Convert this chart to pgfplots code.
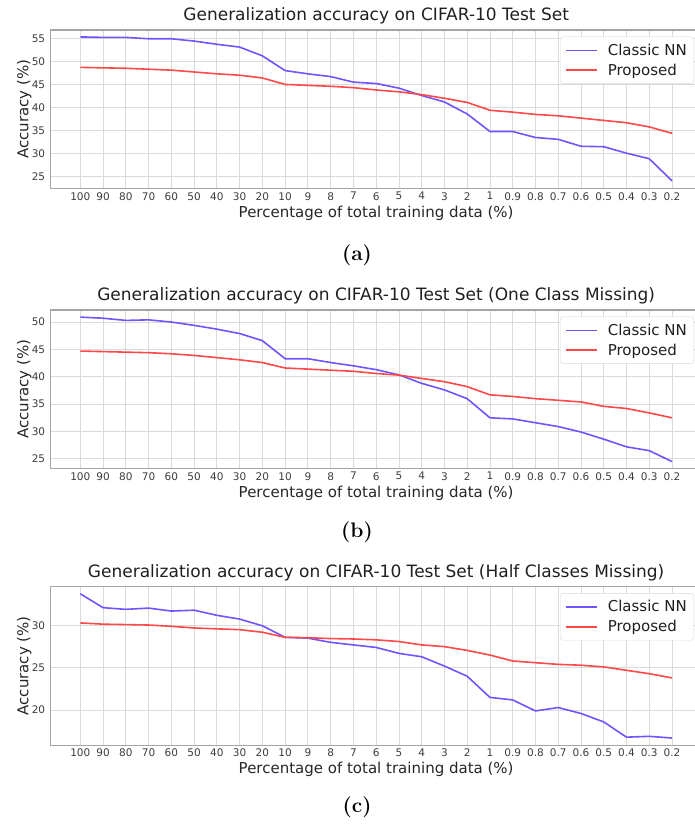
\documentclass[border=0pt]{standalone}
\usepackage{pgfplots}
\usepackage{pgfplotstable}
\pgfplotsset{compat=1.18}
\usepackage{fontspec}
\newfontfamily\dv{DejaVu Sans}
\definecolor{cnn}{RGB}{112,84,255}
\definecolor{prop}{RGB}{255,72,72}
\definecolor{gridc}{RGB}{218,218,218}
\definecolor{spine}{RGB}{165,165,165}
\definecolor{ticktext}{RGB}{60,60,60}

\pgfplotstableread{
idx cnn prop
0 55.3 48.7
1 55.2 48.6
2 55.2 48.5
3 54.9 48.3
4 54.9 48.1
5 54.4 47.7
6 53.7 47.3
7 53.1 47.0
8 51.2 46.4
9 48.0 45.0
10 47.3 44.8
11 46.7 44.6
12 45.5 44.3
13 45.2 43.8
14 44.2 43.4
15 42.6 42.8
16 41.2 42.0
17 38.6 41.1
18 34.8 39.4
19 34.8 39.0
20 33.5 38.5
21 33.1 38.2
22 31.6 37.7
23 31.5 37.2
24 30.1 36.7
25 28.9 35.8
26 24.1 34.4
}\dataA

\pgfplotstableread{
idx cnn prop
0 50.9 44.7
1 50.7 44.6
2 50.3 44.5
3 50.4 44.4
4 50.0 44.2
5 49.4 43.9
6 48.7 43.5
7 47.9 43.1
8 46.6 42.6
9 43.3 41.6
10 43.3 41.4
11 42.6 41.2
12 42.0 41.0
13 41.3 40.6
14 40.35 40.3
15 38.8 39.7
16 37.6 39.1
17 36.0 38.2
18 32.5 36.7
19 32.3 36.4
20 31.6 36.0
21 30.9 35.7
22 29.9 35.4
23 28.6 34.6
24 27.2 34.2
25 26.5 33.4
26 24.5 32.5
}\dataB

\pgfplotstableread{
idx cnn prop
0 33.74 30.3
1 32.1 30.15
2 31.9 30.1
3 32.05 30.05
4 31.7 29.9
5 31.8 29.7
6 31.2 29.6
7 30.75 29.5
8 29.96 29.2
9 28.6 28.6
10 28.5 28.55
11 28.0 28.45
12 27.7 28.4
13 27.4 28.3
14 26.7 28.1
15 26.3 27.7
16 25.2 27.5
17 24.0 27.05
18 21.5 26.5
19 21.2 25.8
20 19.9 25.6
21 20.3 25.4
22 19.6 25.3
23 18.6 25.1
24 16.8 24.7
25 16.9 24.3
26 16.7 23.8
}\dataC

\pgfplotsset{
  panel/.style={
    scale only axis, width=650.9pt, height=158.7pt,
    anchor=north west,
    xmin=-1.3, xmax=27.3,
    xtick={0,...,26},
    xticklabels={100,90,80,70,60,50,40,30,20,10,9,8,7,6,5,4,3,2,1,0.9,0.8,0.7,0.6,0.5,0.4,0.3,0.2},
    grid=major,
    major grid style={gridc, line width=0.8pt},
    axis line style={spine, line width=1.1pt},
    major tick length=0pt,
    /pgf/number format/assume math mode=true,
    tick label style={font=\dv\fontsize{10.5}{12}\selectfont, text=ticktext},
    yticklabel style={xshift=-2pt},
    title style={at={(axis description cs:0.5,1)}, anchor=base, yshift=3.5pt,
      font=\dv\fontsize{17}{20}\selectfont, text=black!88},
    xlabel={Percentage of total training data (\%)},
    ylabel={Accuracy (\%)},
    xlabel style={at={(axis description cs:0.5,-0.1802)}, anchor=base,
      font=\dv\fontsize{15}{18}\selectfont, text=black!85},
    ylabel style={at={(axis description cs:-0.0344,0.5)}, anchor=base,
      font=\dv\fontsize{15}{18}\selectfont, text=black!85},
    legend cell align=left,
    legend image code/.code={%
      \draw[mark repeat=2,mark phase=2,##1,line width=1.6pt] plot coordinates {(0pt,0pt) (15.5pt,0pt) (31pt,0pt)};},
    legend style={at={(axis description cs:1,1)}, anchor=north east,
      xshift=-7.5pt, yshift=-6.7pt,
      draw=black!15, rounded corners=3pt,
      fill=white,
      font=\dv\fontsize{15}{18}\selectfont, text=black!88,
      inner xsep=5pt, inner ysep=5pt, row sep=3pt,
      /tikz/every odd column/.style={column sep=8pt}},
  },
  cnnline/.style={color=cnn, line width=1.6pt, mark=none},
  propline/.style={color=prop, line width=1.6pt, mark=none},
}

\begin{document}
\begin{tikzpicture}
\path[use as bounding box] (0pt,0pt) rectangle (694pt,-825pt);

\begin{axis}[panel, at={(50.7pt,-30pt)}, ymin=22.4, ymax=56.8,
  ytick={25,30,35,40,45,50,55},
  title={Generalization accuracy on CIFAR-10 Test Set}]
\addplot[cnnline] table[x=idx, y=cnn] {\dataA};
\addlegendentry{Classic NN}
\addplot[propline] table[x=idx, y=prop] {\dataA};
\addlegendentry{Proposed}
\end{axis}

\begin{axis}[panel, at={(50.7pt,-310pt)}, ymin=23.2, ymax=52.2,
  ytick={25,30,35,40,45,50},
  title={Generalization accuracy on CIFAR-10 Test Set (One Class Missing)}]
\addplot[cnnline] table[x=idx, y=cnn] {\dataB};
\addlegendentry{Classic NN}
\addplot[propline] table[x=idx, y=prop] {\dataB};
\addlegendentry{Proposed}
\end{axis}

\begin{axis}[panel, at={(50.7pt,-586.5pt)}, ymin=15.85, ymax=34.6,
  ytick={20,25,30},
  title={Generalization accuracy on CIFAR-10 Test Set (Half Classes Missing)}]
\addplot[cnnline] table[x=idx, y=cnn] {\dataC};
\addlegendentry{Classic NN}
\addplot[propline] table[x=idx, y=prop] {\dataC};
\addlegendentry{Proposed}
\end{axis}

\node[anchor=base, font=\bfseries\fontsize{21}{25}\selectfont] at (357pt,-260pt) {(a)};
\node[anchor=base, font=\bfseries\fontsize{21}{25}\selectfont] at (357pt,-537pt) {(b)};
\node[anchor=base, font=\bfseries\fontsize{21}{25}\selectfont] at (357pt,-812pt) {(c)};
\end{tikzpicture}
\end{document}
